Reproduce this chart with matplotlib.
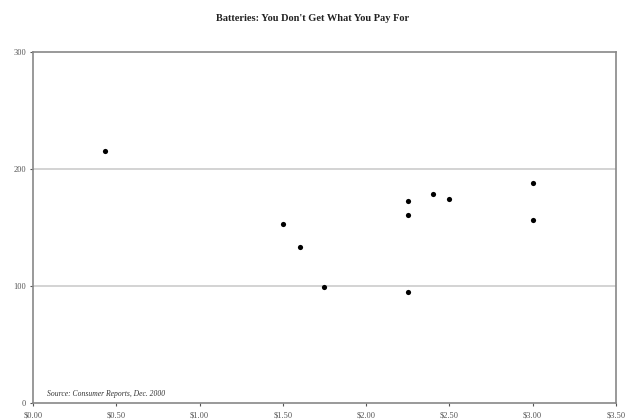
import matplotlib
matplotlib.use("Agg")
import matplotlib.pyplot as plt
from matplotlib.ticker import FuncFormatter

price = [0.43, 1.50, 1.60, 1.75, 2.25, 2.25, 2.25, 2.40, 2.50, 3.00, 3.00]
life = [215, 153, 133, 99, 173, 161, 95, 179, 174, 188, 156]
x_ticks = [0, 0.5, 1.0, 1.5, 2.0, 2.5, 3.0, 3.5]
y_ticks = [0, 100, 200, 300]

plt.rcParams['font.family'] = ['Liberation Serif', 'DejaVu Serif']

fig = plt.figure(figsize=(6.26, 4.19), dpi=100)
ax = fig.add_axes([0.0527, 0.0382, 0.9313, 0.8378])
ax.scatter(price, life, s=14, color='black', zorder=3, linewidths=0)
ax.set_xlim(0, 3.5)
ax.set_ylim(0, 300)
ax.set_xticks(x_ticks)
ax.set_yticks(y_ticks)
ax.xaxis.set_major_formatter(FuncFormatter(lambda v, p: f"${v:.2f}"))
ax.yaxis.set_major_formatter(FuncFormatter(lambda v, p: f"{int(v)}"))
ax.tick_params(axis='both', labelsize=6, colors='#555555', length=2, width=0.8)
ax.tick_params(axis='x', pad=4)
ax.tick_params(axis='y', pad=3)
for v in [100, 200]:
    ax.axhline(v, color='#cccccc', lw=1.2, zorder=1)
for s in ax.spines.values():
    s.set_color('#888888')
    s.set_linewidth(1.2)
fig.text(0.5, 0.955, "Batteries: You Don't Get What You Pay For", ha='center', va='center',
         fontsize=7.5, fontweight='bold', color='#222222')
fig.text(0.075, 0.06, "Source: Consumer Reports, Dec. 2000",
         fontsize=5.5, style='italic', color='#333333', ha='left', va='center')
fig.savefig("out.png", dpi=100)
